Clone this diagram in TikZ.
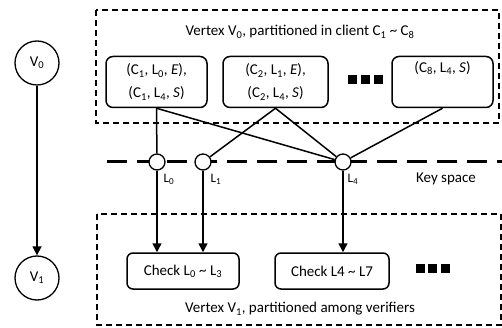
\documentclass[tikz,border=0pt]{standalone}
\usepackage{fontspec}
\setmainfont{Carlito}
\usetikzlibrary{arrows.meta,positioning}
\tikzstyle{arrow} = [line width=1.5pt,-{Triangle[length=9pt,width=9pt]}]
\tikzstyle{link} = [line width=1.5pt]
\tikzstyle{partbox} = [rectangle, rounded corners=7pt, draw, line width=1.5pt, align=center, minimum height=51pt, inner sep=2pt]
\tikzstyle{checkbox} = [rectangle, rounded corners=6pt, draw, line width=1.5pt, minimum width=112pt, minimum height=36pt]
\tikzstyle{keydot} = [circle, draw, line width=1.3pt, fill=white, minimum size=16pt, inner sep=0pt]
\tikzstyle{vertex} = [circle, draw, line width=1.3pt, minimum size=44pt, inner sep=0pt]
\tikzstyle{region} = [draw, line width=1.8pt, dash pattern=on 6pt off 4pt]
\newcommand{\sub}[1]{\textsubscript{#1}}

\begin{document}
\begin{tikzpicture}[x=1pt, y=-1pt, font=\fontsize{15}{23}\selectfont]
    \useasboundingbox (0,0) rectangle (502,328);

    % Dependency between vertices
    \node[vertex] (v0) at (37, 63) {V\sub{0}};
    \node[vertex] (v1) at (37, 278) {V\sub{1}};
    \draw[arrow] (v0) -- (v1);

    % Vertex V0 in clients
    \draw[region] (96, 10) rectangle (499, 123);
    \node (top) at (300, 32) {Vertex V\sub{0}, partitioned in client C\sub{1} \textasciitilde{} C\sub{8}};
    \node[partbox, minimum width=101pt] (c1) at (156.5, 82) {(C\sub{1}, L\sub{0}, \textit{E}),\\(C\sub{1}, L\sub{4}, \textit{S})};
    \node[partbox, minimum width=105pt] (c2) at (275.5, 82) {(C\sub{2}, L\sub{1}, \textit{E}),\\(C\sub{2}, L\sub{4}, \textit{S})};
    \node[partbox, minimum width=101pt] (c8) at (442.5, 82) {(C\sub{8}, L\sub{4}, \textit{S})\\ \strut};
    \foreach \x in {352, 365, 378}
        \fill (\x-4.5, 75.5) rectangle (\x+4.5, 84.5);

    % Key space
    \coordinate (ks0) at (107, 162);
    \coordinate (ks1) at (502, 162);
    \draw[line width=3pt, dash pattern=on 20pt off 10pt] (ks0) -- (ks1);
    \node[keydot] (l0) at (157, 162) {};
    \node[keydot] (l1) at (203, 162) {};
    \node[keydot] (l4) at (343, 162) {};
    \node[font=\fontsize{13}{15}\selectfont] (l0text) at (169, 179) {L\sub{0}};
    \node[font=\fontsize{13}{15}\selectfont] (l1text) at (216, 179) {L\sub{1}};
    \node[font=\fontsize{13}{15}\selectfont] (l4text) at (353, 179) {L\sub{4}};
    \node (keyspace) at (446, 179) {Key space};
    \draw[link] (c1.south) -- (l0);
    \draw[link] (c1.south) -- (l4);
    \draw[link] (c2.south) -- (l1);
    \draw[link] (c2.south) -- (l4);
    \draw[link] (c8.south) -- (l4);

    % Vertex V1 in verifiers
    \draw[region] (97, 214) rectangle (501, 325);
    \node[checkbox] (chk0) at (183, 271) {Check L\sub{0} \textasciitilde{} L\sub{3}};
    \node[checkbox, minimum width=114pt] (chk4) at (332, 271) {Check L4 \textasciitilde{} L7};
    \foreach \x in {420, 432.5, 445}
        \fill (\x-4.5, 264) rectangle (\x+4.5, 273);
    \node (bottom) at (300, 309) {Vertex V\sub{1}, partitioned among verifiers};
    \draw[arrow] (l0) -- (l0 |- chk0.north);
    \draw[arrow] (l1) -- (l1 |- chk0.north);
    \draw[arrow] (l4) -- (l4 |- chk4.north);
\end{tikzpicture}
\end{document}
